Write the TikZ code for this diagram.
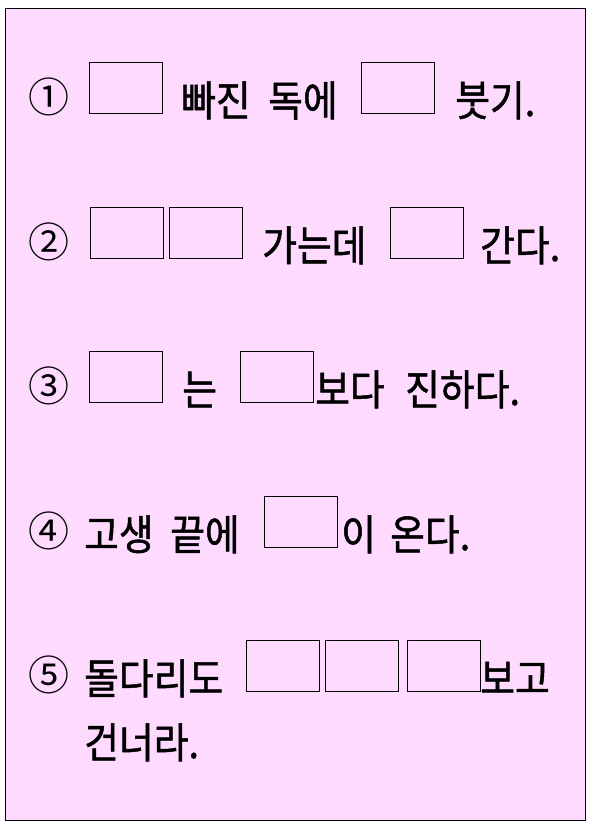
\documentclass[tikz,border=0pt]{standalone}
\usepackage{fontspec}
\newfontfamily\kr[FakeStretch=0.9,FakeBold=1.2]{Noto Sans CJK KR}
\newfontfamily\krnum{Noto Sans CJK KR}
\definecolor{sheet}{RGB}{255,218,255}

\begin{document}
\begin{tikzpicture}[x=1pt,y=-1pt,
	blank/.style={draw,line width=0.8pt,minimum width=73pt,minimum height=51pt,inner sep=0pt,outer sep=0pt,anchor=north west},
	word/.style={anchor=base west,inner sep=0pt,font=\kr\fontsize{42}{42}\selectfont},
	num/.style={inner sep=0pt,font=\krnum\fontsize{41}{41}\selectfont}]
	\useasboundingbox (0,0) rectangle (592,826);
	\draw[fill=sheet,line width=0.8pt] (5,8) rectangle (585,820);
	
	%-------------------------------------
	\node[num] (n1) at (49,97) {①};
	\node[blank] (b11) at (89,62) {};
	\node[word] (w11) at (181,116) {빠진};
	\node[word] (w12) at (268,116) {독에};
	\node[blank] (b12) at (361,62) {};
	\node[word] (w13) at (455,116) {붓기.};
	
	%-------------------------------------
	\node[num] (n2) at (49,242) {②};
	\node[blank] (b21) at (90,207) {};
	\node[blank] (b22) at (169,207) {};
	\node[word] (w21) at (262,261) {가는데};
	\node[blank] (b23) at (390,207) {};
	\node[word] (w22) at (480,261) {간다.};
	
	%-------------------------------------
	\node[num] (n3) at (49,386) {③};
	\node[blank] (b31) at (89,351) {};
	\node[word] (w31) at (182,405) {는};
	\node[blank] (b32) at (240,351) {};
	\node[word] (w32) at (315,405) {보다};
	\node[word] (w33) at (405,405) {진하다.};
	
	%-------------------------------------
	\node[num] (n4) at (49,531) {④};
	\node[word] (w41) at (84,550) {고생};
	\node[word] (w42) at (170,550) {끝에};
	\node[blank] (b41) at (264,496) {};
	\node[word] (w43) at (341,550) {이};
	\node[word] (w44) at (390,550) {온다.};
	
	%-------------------------------------
	\node[num] (n5) at (49,675) {⑤};
	\node[word] (w51) at (84,694) {돌다리도};
	\node[blank] (b51) at (246,640) {};
	\node[blank] (b52) at (325,640) {};
	\node[blank] (b53) at (407,640) {};
	\node[word] (w52) at (480,694) {보고};
	\node[word] (w61) at (84,758) {건너라.};
	
\end{tikzpicture}
\end{document}
